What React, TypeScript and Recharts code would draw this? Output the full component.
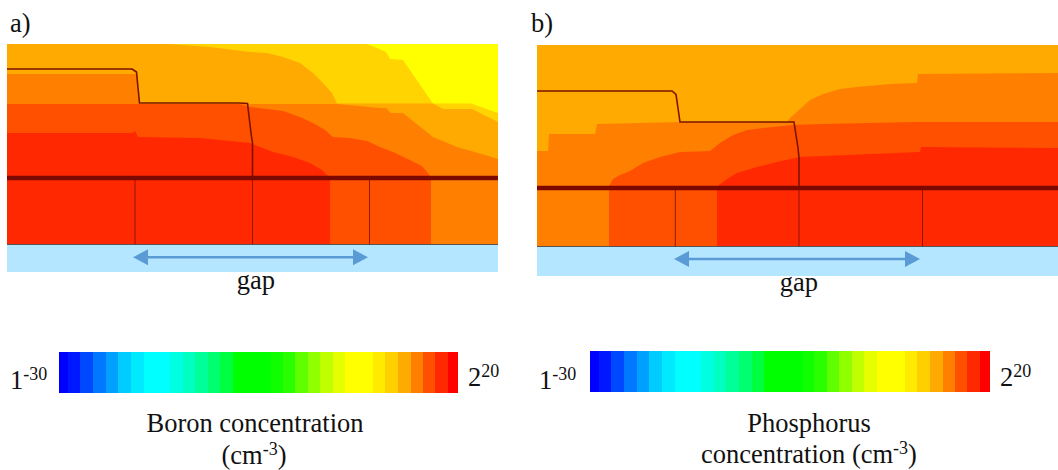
import { Area, Bar, BarChart, ComposedChart, Line, XAxis, YAxis } from "recharts"

type Pt = [number, number]

const RED = "#ff2800"
const RED_ORANGE = "#ff5000"
const ORANGE = "#ff8000"
const AMBER = "#ffaa00"
const GOLD = "#ffd400"
const YELLOW = "#ffff00"
const BUFFER_BLUE = "#b5e6ff"
const ARROW_BLUE = "#5b9bd5"
const OXIDE = "#7d0800"
const WIRE = "#7a1400"

// panel a, boron: top edge of each level, [x, depth]
const boronYellow: Pt[] = [[7, 44], [498, 44]]
const boronGold: Pt[] = [[7, 44], [367, 44], [377, 48], [386, 52], [390, 59], [403, 60], [433, 103.5], [471, 103.5], [498, 113]]
const boronAmber: Pt[] = [[7, 44], [167, 44], [210, 47], [250, 52], [267, 53], [283, 57], [300, 63], [313, 73], [323, 83], [332, 93], [337, 103.5], [433, 103.5], [443, 109], [472, 109], [498, 122]]
const boronOrange: Pt[] = [[7, 74], [137, 74], [139.5, 104], [338, 104], [380, 108], [386, 108], [391, 113], [403, 113], [433, 137], [457, 147], [485, 155], [498, 159]]
const boronRedOrange: Pt[] = [[7, 104], [240, 104], [250, 107], [267, 109], [283, 111], [300, 117], [313, 123], [325, 130], [333, 137], [350, 138], [367, 141], [380, 147], [393, 152], [410, 160], [422, 166], [427, 172], [431, 177]]
const boronRed: Pt[] = [[7, 133], [132, 133], [135, 131], [138, 137], [200, 138], [250, 143], [260, 147], [273, 152], [293, 157], [310, 163], [322, 170], [328, 176], [330, 178]]
const boronOutline: Pt[] = [[7, 69], [132, 69], [135, 71], [136.5, 72], [139.5, 103], [239, 103], [247.5, 103.5], [251, 133], [252.5, 143], [252.5, 178]]
const boronContacts = [135, 252.5, 369.5]

// panel b, phosphorus
const phosAmber: Pt[] = [[537, 45], [1058, 45]]
const phosOrange: Pt[] = [[537, 151], [548, 151], [549, 134], [595, 134], [597, 124], [680, 122], [787, 122], [790, 118], [800, 109], [810, 100], [823, 94], [840, 89], [857, 87], [890, 84], [917, 83], [918, 74], [1058, 73]]
const phosRedOrange: Pt[] = [[609, 186], [613, 179], [620, 175], [630, 171], [643, 163], [660, 157], [680, 152], [710, 151], [720, 143], [733, 135], [747, 130], [763, 128], [793, 125], [823, 124], [913, 122], [1058, 122]]
const phosRed: Pt[] = [[717, 186], [719, 185], [727, 179], [737, 173], [757, 167], [777, 162], [800, 157], [920, 152], [921, 147], [1058, 148]]
const phosOutline: Pt[] = [[537, 91], [672, 91], [676, 94.5], [680, 122], [786, 122], [794, 122], [798, 148], [799, 158], [799, 188]]
const phosContacts = [675.3, 799, 922.5]

// colour scale: widths of the steps and their colours
const scaleSteps = [8.7, 12.6, 12.7, 12.7, 12.6, 12.7, 12.7, 26.3, 12.7, 12.3, 12.7, 12.6, 12.7, 38.3, 11.7, 12.3, 12.7, 12.3, 12.7, 12.3, 28, 12.3, 12.7, 12.7, 12.3, 12.3, 12.7, 10]
const scaleColors = ["#0000ff", "#0018ff", "#0048ff", "#0078ff", "#00a0ff", "#00ccff", "#00eaff", "#00ffff", "#00ffe0", "#00ffc0", "#00ff99", "#00ff70", "#00ff40", "#00ff00", "#10ff00", "#2aff00", "#60ff00", "#90ff00", "#bfff00", "#e5ff00", "#ffff00", "#ffea00", "#ffd000", "#ffaa00", "#ff8000", "#ff5000", "#ff2800", "#ff0000"]

const serif = "'Liberation Serif', 'Times New Roman', serif"

type PanelProps = {
  left: number
  right: number
  top: number
  siliconBottom: number
  bottom: number
  oxideY: number
  levels: { edge: Pt[]; color: string }[]
  outline: Pt[]
  contacts: number[]
  arrowFrom: number
  arrowTo: number
  arrowY: number
}

function Panel(p: PanelProps) {
  const toBand = (edge: Pt[]) => edge.map(([x, y]) => ({ x, band: [y, p.siliconBottom] }))
  const toLine = (pts: Pt[]) => pts.map(([x, y]) => ({ x, y }))
  const head = (tip: number, base: number) => [
    { x: Math.min(tip, base), band: tip < base ? [p.arrowY, p.arrowY] : [p.arrowY - 8, p.arrowY + 8] },
    { x: Math.max(tip, base), band: tip < base ? [p.arrowY - 8, p.arrowY + 8] : [p.arrowY, p.arrowY] },
  ]
  return (
    <div style={{ position: "absolute", left: p.left, top: p.top }}>
      <ComposedChart width={p.right - p.left} height={p.bottom - p.top} margin={{ top: 0, right: 0, bottom: 0, left: 0 }}>
        <XAxis dataKey="x" type="number" domain={[p.left, p.right]} hide allowDataOverflow />
        <YAxis type="number" domain={[p.top, p.bottom]} reversed hide allowDataOverflow />
        <Area
          data={[{ x: p.left, band: [p.siliconBottom, p.bottom] }, { x: p.right, band: [p.siliconBottom, p.bottom] }]}
          dataKey="band"
          fill={BUFFER_BLUE}
          fillOpacity={1}
          stroke="none"
          dot={false}
          activeDot={false}
          isAnimationActive={false}
        />
        {p.levels.map((l, i) => (
          <Area
            key={i}
            data={toBand(l.edge)}
            dataKey="band"
            fill={l.color}
            fillOpacity={1}
            stroke="none"
            dot={false}
            activeDot={false}
            isAnimationActive={false}
          />
        ))}
        <Line data={toLine([[p.left, p.siliconBottom], [p.right, p.siliconBottom]])} dataKey="y" stroke="#555" strokeWidth={1} dot={false} activeDot={false} isAnimationActive={false} />
        {p.contacts.map((c) => (
          <Line key={c} data={toLine([[c, p.oxideY], [c, p.siliconBottom]])} dataKey="y" stroke={WIRE} strokeOpacity={0.85} strokeWidth={1} dot={false} activeDot={false} isAnimationActive={false} />
        ))}
        <Line data={toLine(p.outline)} dataKey="y" stroke={WIRE} strokeWidth={1.6} dot={false} activeDot={false} isAnimationActive={false} />
        <Line data={toLine([[p.left, p.oxideY], [p.right, p.oxideY]])} dataKey="y" stroke={OXIDE} strokeWidth={4.6} dot={false} activeDot={false} isAnimationActive={false} />
        <Line data={toLine([[p.arrowFrom + 10, p.arrowY], [p.arrowTo - 10, p.arrowY]])} dataKey="y" stroke={ARROW_BLUE} strokeWidth={2.5} dot={false} activeDot={false} isAnimationActive={false} />
        <Area data={head(p.arrowFrom, p.arrowFrom + 15)} dataKey="band" fill={ARROW_BLUE} fillOpacity={1} stroke="none" dot={false} activeDot={false} isAnimationActive={false} />
        <Area data={head(p.arrowTo, p.arrowTo - 15)} dataKey="band" fill={ARROW_BLUE} fillOpacity={1} stroke="none" dot={false} activeDot={false} isAnimationActive={false} />
      </ComposedChart>
    </div>
  )
}

function ColorScale({ left, top, width, height }: { left: number; top: number; width: number; height: number }) {
  const row: Record<string, number | string> = { name: "scale" }
  scaleSteps.forEach((w, i) => {
    row["s" + i] = w
  })
  const total = scaleSteps.reduce((a, b) => a + b, 0)
  return (
    <div style={{ position: "absolute", left, top }}>
      <BarChart width={width} height={height} data={[row]} layout="vertical" barCategoryGap={0} margin={{ top: 0, right: 0, bottom: 0, left: 0 }}>
        <XAxis type="number" domain={[0, total]} hide />
        <YAxis type="category" dataKey="name" hide />
        {scaleSteps.map((_, i) => (
          <Bar key={i} dataKey={"s" + i} stackId="scale" fill={scaleColors[i]} stroke="none" shapeRendering="crispEdges" isAnimationActive={false} />
        ))}
      </BarChart>
    </div>
  )
}

function T({ x, y, anchor, children }: { x: number; y: number; anchor?: "middle"; children: React.ReactNode }) {
  return (
    <text x={x} y={y} textAnchor={anchor} fontFamily={serif} fontSize={26.5} fill="#111">
      {children}
    </text>
  )
}

function Sup({ children, after }: { children: string; after?: boolean }) {
  return (
    <>
      <tspan dy={-9} fontSize={18}>{children}</tspan>
      {after ? <tspan dy={9}>{")"}</tspan> : null}
    </>
  )
}

export default function App() {
  return (
    <div style={{ position: "absolute", left: 0, top: 0, width: 1058, height: 470, background: "#fff", overflow: "hidden" }}>
      <Panel
        left={7}
        right={498}
        top={44}
        siliconBottom={244.5}
        bottom={272}
        oxideY={178}
        levels={[
          { edge: boronYellow, color: YELLOW },
          { edge: boronGold, color: GOLD },
          { edge: boronAmber, color: AMBER },
          { edge: boronOrange, color: ORANGE },
          { edge: boronRedOrange, color: RED_ORANGE },
          { edge: boronRed, color: RED },
        ]}
        outline={boronOutline}
        contacts={boronContacts}
        arrowFrom={133}
        arrowTo={368}
        arrowY={257.3}
      />
      <Panel
        left={537}
        right={1058}
        top={45}
        siliconBottom={246.5}
        bottom={276}
        oxideY={188}
        levels={[
          { edge: phosAmber, color: AMBER },
          { edge: phosOrange, color: ORANGE },
          { edge: phosRedOrange, color: RED_ORANGE },
          { edge: phosRed, color: RED },
        ]}
        outline={phosOutline}
        contacts={phosContacts}
        arrowFrom={674}
        arrowTo={920}
        arrowY={259}
      />
      <ColorScale left={59} top={352} width={399} height={41} />
      <ColorScale left={590} top={351} width={400} height={41} />
      <svg width={1058} height={470} style={{ position: "absolute", left: 0, top: 0, pointerEvents: "none" }}>
        <T x={10} y={32}>a)</T>
        <T x={531} y={32}>b)</T>
        <T x={256} y={289} anchor="middle">gap</T>
        <T x={799} y={291} anchor="middle">gap</T>
        <T x={10} y={389}>1<Sup>-30</Sup></T>
        <T x={468} y={386}>2<Sup>20</Sup></T>
        <T x={539} y={389}>1<Sup>-30</Sup></T>
        <T x={1000} y={386}>2<Sup>20</Sup></T>
        <T x={255} y={432} anchor="middle">Boron concentration</T>
        <T x={254} y={464} anchor="middle">(cm<Sup after>-3</Sup></T>
        <T x={809} y={432} anchor="middle">Phosphorus</T>
        <T x={809} y={463} anchor="middle">concentration (cm<Sup after>-3</Sup></T>
      </svg>
    </div>
  )
}
